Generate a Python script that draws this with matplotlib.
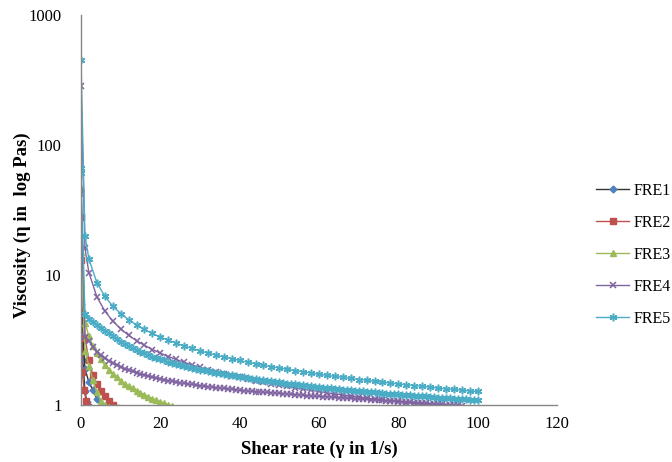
import matplotlib
matplotlib.use("Agg")
import matplotlib.pyplot as plt

plt.rcParams['font.family'] = ['Liberation Serif', 'DejaVu Serif']

# shear rate grids (1/s)
shear_fine = [0, 0] + list(range(1, 101))
shear_coarse = [0, 1] + list(range(2, 101, 2))

# FRE1 - two short branches near the origin
fre1_x_a = [0, 0.5, 1.0, 1.5, 2.0]
fre1_y_a = [20, 2.2, 1.27, 1.06, 0.95]
fre1_x_b = [0, 1, 2, 3, 4, 5]
fre1_y_b = [6.0, 1.9, 1.5, 1.3, 1.12, 0.99]

# FRE2
fre2_x_a = [0, 1, 2, 3, 4, 5, 6, 7, 8, 9]
fre2_y_a = [28, 3.3, 2.2, 1.7, 1.45, 1.28, 1.17, 1.08, 1.0, 0.95]
fre2_x_b = [0, 0.3, 0.8, 1.3, 1.8]
fre2_y_b = [13, 1.8, 1.3, 1.07, 0.97]

# FRE3
fre3_x_a = list(range(0, 24))
fre3_y_a = [47, 4.3, 3.4, 2.85, 2.5, 2.24, 2.03, 1.87, 1.74, 1.63,
            1.54, 1.46, 1.40, 1.34, 1.29, 1.24, 1.20, 1.16, 1.12, 1.09,
            1.06, 1.03, 1.00, 0.98]
fre3_x_b = [0, 1, 2, 3, 4, 5, 6, 7]
fre3_y_b = [15, 2.6, 2.0, 1.55, 1.25, 1.08, 1.0, 0.96]

# FRE4 - upper branch (coarse) and lower branch (fine)
fre4_x_a = shear_coarse[:47]
fre4_y_a = [284, 16.0,
            10.44, 6.80, 5.29, 4.42, 3.85, 3.44, 3.12, 2.88, 2.67, 2.51,
            2.36, 2.24, 2.13, 2.03, 1.95, 1.87, 1.80, 1.74, 1.68, 1.63,
            1.58, 1.54, 1.49, 1.46, 1.42, 1.39, 1.35, 1.32, 1.30, 1.27,
            1.24, 1.22, 1.20, 1.17, 1.15, 1.13, 1.11, 1.09, 1.08, 1.06,
            1.04, 1.03, 1.01, 1.00, 0.99]
fre4_x_b = shear_fine[:98]
fre4_y_b = [44, 42,
            3.35, 3.10, 2.80, 2.57, 2.41, 2.28, 2.18, 2.09, 2.02, 1.95,
            1.90, 1.85, 1.81, 1.77, 1.73, 1.70, 1.67, 1.64, 1.61, 1.59,
            1.56, 1.54, 1.52, 1.50, 1.48, 1.47, 1.45, 1.44, 1.42, 1.41,
            1.39, 1.38, 1.37, 1.36, 1.35, 1.34, 1.33, 1.32, 1.31, 1.30,
            1.29, 1.28, 1.27, 1.265, 1.26, 1.255, 1.25, 1.24, 1.235, 1.23,
            1.22, 1.215, 1.21, 1.20, 1.195, 1.19, 1.18, 1.175, 1.17, 1.165,
            1.16, 1.155, 1.15, 1.145, 1.14, 1.135, 1.13, 1.125, 1.12, 1.115,
            1.11, 1.105, 1.10, 1.095, 1.09, 1.085, 1.08, 1.075, 1.07, 1.065,
            1.06, 1.055, 1.05, 1.045, 1.04, 1.035, 1.03, 1.025, 1.02, 1.015,
            1.01, 1.006, 1.002, 0.998, 0.995, 0.99]

# FRE5 - upper branch (coarse) and middle branch (fine)
fre5_x_a = shear_coarse
fre5_y_a = [451, 20.1,
            13.26, 8.75, 6.86, 5.77, 5.05, 4.53, 4.13, 3.81, 3.55, 3.33,
            3.15, 2.99, 2.85, 2.72, 2.61, 2.51, 2.42, 2.34, 2.27, 2.20,
            2.13, 2.08, 2.02, 1.97, 1.92, 1.88, 1.84, 1.80, 1.76, 1.72,
            1.69, 1.66, 1.63, 1.60, 1.57, 1.55, 1.52, 1.50, 1.47, 1.45,
            1.43, 1.41, 1.39, 1.37, 1.35, 1.33, 1.32, 1.30, 1.28, 1.27]
fre5_x_b = shear_fine
fre5_y_b = [66, 61,
            5.0, 4.6, 4.35, 4.1, 3.9, 3.72, 3.56, 3.40, 3.22, 3.07,
            2.94, 2.83, 2.73, 2.64, 2.56, 2.49, 2.42, 2.36, 2.30, 2.25,
            2.20, 2.15, 2.11, 2.07, 2.03, 2.00, 1.96, 1.93, 1.90, 1.87,
            1.85, 1.82, 1.80, 1.77, 1.75, 1.73, 1.71, 1.69, 1.67, 1.65,
            1.63, 1.61, 1.59, 1.58, 1.56, 1.55, 1.53, 1.52, 1.50, 1.49,
            1.48, 1.46, 1.45, 1.44, 1.43, 1.42, 1.40, 1.39, 1.38, 1.37,
            1.36, 1.35, 1.34, 1.33, 1.32, 1.31, 1.305, 1.30, 1.29, 1.28,
            1.27, 1.26, 1.255, 1.25, 1.24, 1.23, 1.225, 1.22, 1.215, 1.21,
            1.20, 1.19, 1.185, 1.18, 1.175, 1.17, 1.165, 1.16, 1.15, 1.14,
            1.135, 1.13, 1.125, 1.12, 1.115, 1.11, 1.105, 1.10, 1.095, 1.09]

series = [
    ('FRE1', [(fre1_x_a, fre1_y_a), (fre1_x_b, fre1_y_b)],
     dict(color='#333333', marker='D', ms=3.5, mfc='#4F81BD', mec='#4F81BD')),
    ('FRE2', [(fre2_x_a, fre2_y_a), (fre2_x_b, fre2_y_b)],
     dict(color='#C0504D', marker='s', ms=5, mfc='#C0504D', mec='#C0504D')),
    ('FRE3', [(fre3_x_a, fre3_y_a), (fre3_x_b, fre3_y_b)],
     dict(color='#9BBB59', marker='^', ms=5, mfc='#9BBB59', mec='#9BBB59')),
    ('FRE4', [(fre4_x_a, fre4_y_a), (fre4_x_b, fre4_y_b)],
     dict(color='#8064A2', marker='x', ms=4.5, mfc='#8064A2', mec='#8064A2', mew=1.1)),
    ('FRE5', [(fre5_x_a, fre5_y_a), (fre5_x_b, fre5_y_b)],
     dict(color='#4BACC6', marker=(6, 2, 0), ms=5.5, mfc='#4BACC6', mec='#4BACC6', mew=1.1)),
]

fig = plt.figure(figsize=(6.72, 4.62), dpi=100)
ax = fig.add_axes([0.1205, 0.1234, 0.7084, 0.8441])

for name, branches, style in series:
    for i, (xs, ys) in enumerate(branches):
        ax.plot(xs, ys, lw=1.0, label=name if i == 0 else None, **style)

ax.set_yscale('log')
ax.set_ylim(1, 1000)
ax.set_xlim(0, 120)
ax.set_xticks([0, 20, 40, 60, 80, 100, 120])
ax.set_yticks([1, 10, 100, 1000])
ax.set_yticklabels(['1', '10', '100', '1000'])
ax.minorticks_off()

for side in ['top', 'right']:
    ax.spines[side].set_visible(False)
for side in ['left', 'bottom']:
    ax.spines[side].set_color('#868686')
    ax.spines[side].set_linewidth(1.0)
ax.tick_params(axis='y', length=0, labelsize=12, pad=14)
ax.tick_params(axis='x', length=0, labelsize=12, pad=8)

ax.set_xlabel('Shear rate (\u03b3 in 1/s)', fontsize=13.5, fontweight='bold')
ax.xaxis.set_label_coords(0.5, -0.092)
ax.set_ylabel('Viscosity (\u03b7 in  log Pas)', fontsize=13.5, fontweight='bold')
ax.yaxis.set_label_coords(-0.106, 0.46)

ax.legend(loc='center left', bbox_to_anchor=(0.877, 0.448), bbox_transform=fig.transFigure,
          frameon=False, fontsize=11.5, handlelength=2.1, handletextpad=0.3,
          labelspacing=1.0, borderaxespad=0)

fig.savefig('out.png', dpi=100)
